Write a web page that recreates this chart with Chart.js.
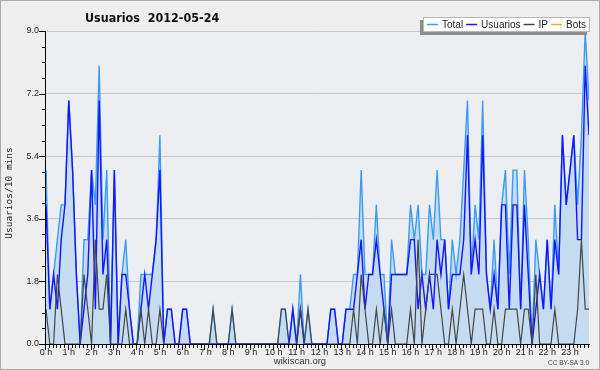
<!DOCTYPE html>
<html>
<head>
<meta charset="utf-8">
<script src="https://cdn.jsdelivr.net/npm/chart.js@4/dist/chart.umd.min.js"></script>
<style>
  html, body { margin:0; padding:0; background:#efefef; }
  #wrap { width:600px; height:370px; }
</style>
</head>
<body>
<div id="wrap"><canvas id="usersChart" width="600" height="370"></canvas></div>
<script>
// one value every 10 minutes, 2012-05-24
const hourLabels = ['0 h','1 h','2 h','3 h','4 h','5 h','6 h','7 h','8 h','9 h','10 h','11 h',
                    '12 h','13 h','14 h','15 h','16 h','17 h','18 h','19 h','20 h','21 h','22 h','23 h'];
const yTicks = [0, 1.8, 3.6, 5.4, 7.2, 9.0];

const totalValues = [
  5,1,2,3,4,4,7,5,2,0, 3,3,5,4,8,3,5,0,5,0, 2,3,1,0,0,2,2,2,2,3, 6,0,1,1,0,0,1,1,0,0,
  0,0,0,0,1,0,0,0,0,1, 0,0,0,0,0,0,0,0,0,0, 0,0,1,1,0,1,0,2,0,1, 0,0,0,0,0,1,1,0,0,1,
  1,2,2,5,2,2,2,4,2,2, 0,3,2,2,2,2,4,3,4,2, 2,4,3,5,3,3,1,3,2,3, 5,7,2,4,3,7,2,1,3,1,
  4,5,2,5,5,1,5,3,0,3, 2,1,3,1,4,2,6,4,5,6, 4,6,9,7
];
const usuariosValues = [
  4,1,2,1,3,4,7,5,2,0, 1,2,5,1,7,2,3,0,5,0, 2,2,1,0,0,1,2,1,2,3, 5,0,1,1,0,0,1,1,0,0,
  0,0,0,0,0,0,0,0,0,0, 0,0,0,0,0,0,0,0,0,0, 0,0,0,0,0,1,0,1,0,0, 0,0,0,0,0,1,1,0,0,1,
  1,1,2,3,1,2,2,3,2,1, 0,2,2,2,2,2,3,3,1,2, 1,2,1,3,2,3,1,2,2,2, 3,6,2,3,2,6,2,1,2,1,
  4,4,1,4,4,1,4,2,0,1, 2,1,3,1,3,2,6,4,5,6, 3,3,8,6
];
const ipValues = [
  1,0,0,2,1,0,0,0,0,0, 2,1,0,3,1,1,2,0,0,0, 0,1,0,0,0,1,0,1,0,0, 1,0,0,0,0,0,0,0,0,0,
  0,0,0,0,1,0,0,0,0,1, 0,0,0,0,0,0,0,0,0,0, 0,0,1,1,0,0,0,1,0,1, 0,0,0,0,0,0,0,0,0,0,
  0,1,0,2,1,0,0,1,0,1, 0,1,0,0,0,0,1,0,3,0, 1,2,2,2,1,0,0,1,0,1, 2,1,0,1,1,1,0,0,1,0,
  0,1,1,1,1,0,1,1,0,2, 0,0,0,0,1,0,0,0,0,0, 1,3,1,1
];
const botsValues = []; // no bot activity that day

const SANS = "'Liberation Sans', Arial, sans-serif";

function points(arr) {
  return arr.map((v, i) => ({ x: i, y: v }));
}

const decor = {
  id: 'decor',
  beforeDraw(chart) {
    const { ctx, chartArea: a } = chart;
    ctx.save();
    ctx.fillStyle = '#efefef';
    ctx.fillRect(0, 0, chart.width, chart.height);
    ctx.strokeStyle = '#a9a9a9';
    ctx.lineWidth = 1;
    ctx.strokeRect(0.5, 0.5, chart.width - 1, chart.height - 1);
    ctx.fillStyle = '#eceef1';
    ctx.fillRect(a.left, a.top, a.right - a.left, a.bottom - a.top);
    ctx.restore();
  },
  afterDatasetsDraw(chart) {
    const { ctx, chartArea: a } = chart;
    const xs = chart.scales.x, ys = chart.scales.y;
    ctx.save();
    ctx.strokeStyle = '#000';
    ctx.lineWidth = 1;
    ctx.beginPath();
    ctx.moveTo(a.left - 0.5, a.top);
    ctx.lineTo(a.left - 0.5, a.bottom + 0.5);
    ctx.lineTo(a.right + 1, a.bottom + 0.5);
    // x ticks, one per 10 minutes, longer on the hour
    for (let i = 0; i <= xs.max; i++) {
      const px = Math.round(xs.getPixelForValue(i)) - 0.5;
      ctx.moveTo(px, a.bottom);
      ctx.lineTo(px, a.bottom + (i % 6 === 0 ? 6 : 4));
    }
    // y ticks, 4 minor steps between labels
    for (let v = 0; v <= 9.001; v += 0.45) {
      const py = Math.round(ys.getPixelForValue(v)) + 0.5;
      const major = Math.abs(v / 1.8 - Math.round(v / 1.8)) < 0.01;
      ctx.moveTo(a.left - (major ? 7 : 4), py);
      ctx.lineTo(a.left, py);
    }
    ctx.stroke();
    ctx.restore();
  },
  afterDraw(chart) {
    const { ctx } = chart;
    ctx.save();
    // title, slightly condensed
    ctx.save();
    ctx.translate(85, 22);
    ctx.scale(0.86, 1);
    ctx.fillStyle = '#111';
    ctx.font = "bold 13px 'DejaVu Sans', sans-serif";
    ctx.textBaseline = 'alphabetic';
    ctx.textAlign = 'left';
    ctx.fillText('Usuarios  2012-05-24', 0, 0);
    ctx.restore();

    // y axis title
    ctx.save();
    ctx.translate(10, 193);
    ctx.rotate(-Math.PI / 2);
    ctx.font = "9.5px 'DejaVu Sans Mono', monospace";
    ctx.textAlign = 'center';
    ctx.textBaseline = 'middle';
    ctx.fillStyle = '#222';
    ctx.fillText('Usuarios/10 mins', 0, 0);
    ctx.restore();

    // legend box
    const bx = 423, by = 17, bw = 167, bh = 15;
    ctx.fillStyle = '#8c8c8c';
    ctx.fillRect(bx - 3, by + 3, bw, bh);
    ctx.fillStyle = '#fff';
    ctx.fillRect(bx, by, bw, bh);
    ctx.strokeStyle = '#b5b5b5';
    ctx.lineWidth = 1;
    ctx.strokeRect(bx + 0.5, by + 0.5, bw - 1, bh - 1);
    ctx.font = '10px ' + SANS;
    ctx.textBaseline = 'middle';
    ctx.textAlign = 'left';
    let lx = bx + 4;
    const ly = by + 7.5;
    chart.data.datasets.forEach(ds => {
      ctx.strokeStyle = ds.borderColor;
      ctx.lineWidth = 1.5;
      ctx.beginPath();
      ctx.moveTo(lx, ly);
      ctx.lineTo(lx + 11, ly);
      ctx.stroke();
      lx += 15;
      ctx.fillStyle = '#222';
      ctx.fillText(ds.label, lx, ly + 0.5);
      lx += ctx.measureText(ds.label).width + 3;
    });

    // footer
    ctx.fillStyle = '#333';
    ctx.textAlign = 'center';
    ctx.textBaseline = 'middle';
    ctx.font = '9.5px ' + SANS;
    ctx.fillText('wikiscan.org', 300, 361.5);
    ctx.textAlign = 'right';
    ctx.font = '6.5px ' + SANS;
    ctx.fillStyle = '#444';
    ctx.fillText('CC BY-SA 3.0', 589, 363);
    ctx.restore();
  }
};

new Chart(document.getElementById('usersChart'), {
  type: 'line',
  data: {
    datasets: [
      { label: 'Total', data: points(totalValues), borderColor: '#3a9cf5', backgroundColor: '#c5dcf0',
        fill: 'origin', borderWidth: 1.4, order: 4 },
      { label: 'Usuarios', data: points(usuariosValues), borderColor: '#1414ff', borderWidth: 1.4,
        fill: false, order: 3 },
      { label: 'IP', data: points(ipValues), borderColor: '#454545', borderWidth: 1.2,
        fill: false, order: 2 },
      { label: 'Bots', data: points(botsValues), borderColor: '#ffa31a', borderWidth: 1.2,
        fill: false, order: 1 }
    ]
  },
  options: {
    responsive: false,
    animation: false,
    events: [],
    layout: { padding: { top: 31, right: 11, left: 0, bottom: 0 } },
    elements: { point: { radius: 0 }, line: { tension: 0 } },
    plugins: { legend: { display: false }, title: { display: false }, tooltip: { enabled: false } },
    scales: {
      x: {
        type: 'linear', min: 0, max: 143,
        afterFit: s => { s.height = 26; },
        afterBuildTicks: s => { s.ticks = hourLabels.map((_, h) => ({ value: h * 6 })); },
        grid: { display: false, drawTicks: false },
        border: { display: false },
        ticks: {
          autoSkip: false, maxRotation: 0, padding: 3, color: '#222',
          font: { family: SANS, size: 9 },
          callback: v => hourLabels[v / 6]
        }
      },
      y: {
        min: 0, max: 9,
        afterFit: s => { s.width = 46; },
        afterBuildTicks: s => { s.ticks = yTicks.map(v => ({ value: v })); },
        grid: { color: '#c8c8c8', drawTicks: false },
        border: { display: false },
        ticks: {
          padding: 7, color: '#222',
          font: { family: SANS, size: 9 },
          callback: v => v.toFixed(1)
        }
      }
    }
  },
  plugins: [decor]
});
</script>
</body>
</html>
